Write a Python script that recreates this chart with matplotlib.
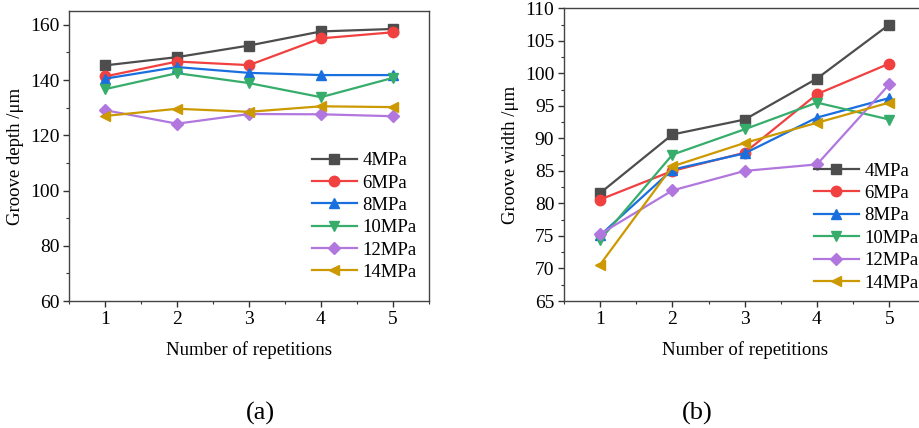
import numpy as np
import matplotlib
matplotlib.use('Agg')
import matplotlib.pyplot as plt
from matplotlib.ticker import MultipleLocator


repetitions = [1, 2, 3, 4, 5]
labels = ['4MPa', '6MPa', '8MPa', '10MPa', '12MPa', '14MPa']

# groove depth (um), panel (a)
depth_4 = [145.3, 148.3, 152.5, 157.6, 158.5]
depth_6 = [141.3, 146.7, 145.4, 155.1, 157.3]
depth_8 = [140.5, 144.7, 142.6, 141.8, 141.8]
depth_10 = [136.7, 142.5, 138.9, 133.8, 140.8]
depth_12 = [129.1, 124.2, 127.7, 127.6, 126.9]
depth_14 = [127.0, 129.6, 128.5, 130.5, 130.2]

# groove width (um), panel (b)
width_4 = [81.6, 90.6, 92.9, 99.2, 107.5]
width_6 = [80.6, 85.0, 87.8, 96.8, 101.5]
width_8 = [75.1, 85.2, 87.7, 93.2, 96.2]
width_10 = [74.4, 87.5, 91.4, 95.5, 92.9]
width_12 = [75.3, 82.0, 85.0, 86.0, 98.3]
width_14 = [70.6, 85.7, 89.3, 92.4, 95.5]

COLORS = ['#4d4d4d', '#f14040', '#1a6fdf', '#37ad6b', '#b177de', '#cc9900']
MARKERS = ['s', 'o', '^', 'v', 'D', '<']
SIZES = [7, 7.5, 7.5, 7.5, 6.5, 7.5]

plt.rcParams['font.family'] = ['Liberation Serif', 'DejaVu Serif']
FS = 13.5

W, H = 920, 428
fig = plt.figure(figsize=(W / 100, H / 100), dpi=100)


def px_axes(left, top, right, bottom):
    return fig.add_axes([left / W, 1 - bottom / H, (right - left) / W, (bottom - top) / H])


def style_axes(ax, ymajor, yminor):
    ax.set_xlim(0.5, 5.5)
    ax.xaxis.set_major_locator(MultipleLocator(1))
    ax.xaxis.set_minor_locator(MultipleLocator(0.5))
    ax.yaxis.set_major_locator(MultipleLocator(ymajor))
    ax.yaxis.set_minor_locator(MultipleLocator(yminor))
    ax.tick_params(which='both', direction='out', top=False, right=False, labelsize=14, color='#333333')
    ax.tick_params(which='major', length=4, width=1, pad=3)
    ax.tick_params(which='minor', length=2.5, width=0.8)
    for s in ax.spines.values():
        s.set_color('#444444')
        s.set_linewidth(1)
    ax.set_xlabel('Number of repetitions', fontsize=FS, labelpad=10)


def draw_series(ax, series):
    for vals, lab, c, m, ms in zip(series, labels, COLORS, MARKERS, SIZES):
        ax.plot(repetitions, vals, color=c, marker=m, markersize=ms, linewidth=1.6, label=lab)


ax1 = px_axes(69, 11, 429, 301)
draw_series(ax1, [depth_4, depth_6, depth_8, depth_10, depth_12, depth_14])
ax1.set_ylim(60, 165)
style_axes(ax1, 20, 10)
ax1.set_ylabel('Groove depth /μm', fontsize=FS, labelpad=4)
ax1.legend(loc='upper left', bbox_to_anchor=(312 / W, 1 - 152 / H), bbox_transform=fig.transFigure,
           frameon=False, fontsize=FS, handlelength=2.4, handletextpad=0.3, labelspacing=0.28,
           borderpad=0, borderaxespad=0)

ax2 = px_axes(564, 8.3, 925.4, 301)
draw_series(ax2, [width_4, width_6, width_8, width_10, width_12, width_14])
ax2.set_ylim(65, 110)
style_axes(ax2, 5, 2.5)
ax2.set_ylabel('Groove width /μm', fontsize=FS, labelpad=4)
ax2.legend(loc='upper left', bbox_to_anchor=(814 / W, 1 - 162.5 / H), bbox_transform=fig.transFigure,
           frameon=False, fontsize=FS, handlelength=2.4, handletextpad=0.3, labelspacing=0.28,
           borderpad=0, borderaxespad=0)

fig.text(260 / W, 1 - 413 / H, '(a)', fontsize=19, ha='center', va='center')
fig.text(697 / W, 1 - 413 / H, '(b)', fontsize=19, ha='center', va='center')

fig.savefig('out.png', dpi=100)
